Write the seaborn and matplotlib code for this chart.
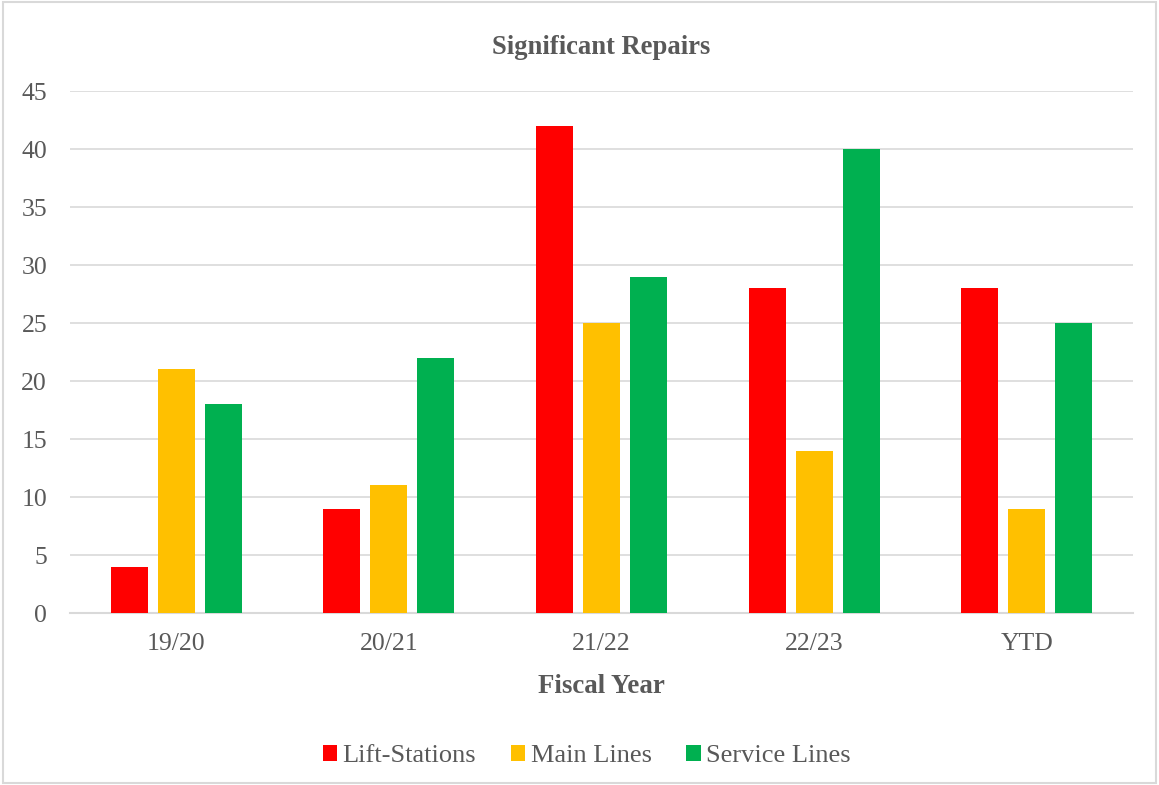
import matplotlib
matplotlib.use("Agg")
import matplotlib.pyplot as plt
import seaborn as sns
import pandas as pd
from matplotlib.patches import Rectangle

# Repair counts per fiscal year
years = ["19/20", "20/21", "21/22", "22/23", "YTD"]
lift_stations = [4, 9, 42, 28, 28]
main_lines = [21, 11, 25, 14, 9]
service_lines = [18, 22, 29, 40, 25]
series_names = ["Lift-Stations", "Main Lines", "Service Lines"]
colors = ["#FF0000", "#FFC000", "#00B050"]

df = pd.DataFrame({
    "Fiscal Year": years * 3,
    "Repairs": lift_stations + main_lines + service_lines,
    "Type": [n for n in series_names for _ in years],
})

sns.set_theme(style="white")
plt.rcParams["font.family"] = ["Liberation Serif", "DejaVu Serif"]
text_color = "#595959"

fig = plt.figure(figsize=(11.59, 7.85), dpi=100)
ax = fig.add_axes([0.0604, 0.219, 0.9172, 0.665])

sns.barplot(data=df, x="Fiscal Year", y="Repairs", hue="Type",
            hue_order=series_names, palette=colors, width=0.663, gap=0.21,
            saturation=1, ax=ax, legend=True, zorder=3, linewidth=0)

ax.set_ylim(0, 45)
ax.set_yticks(range(0, 46, 5))
ax.set_xlim(-0.5, 4.5)
ax.grid(axis="y", color="#D9D9D9", linewidth=1.2, zorder=0)
ax.set_axisbelow(True)
for side in ["top", "right", "left"]:
    ax.spines[side].set_visible(False)
ax.spines["bottom"].set_color("#D9D9D9")
ax.spines["bottom"].set_linewidth(1.5)
ax.tick_params(axis="both", length=0, labelsize=18.5, colors=text_color)
ax.tick_params(axis="y", pad=16.5)
ax.tick_params(axis="x", pad=14)
ax.set_ylabel("")
ax.set_xlabel("Fiscal Year", fontsize=19.4, fontweight="bold", color=text_color, labelpad=14)

ax.set_title("Significant Repairs", fontsize=19.2, fontweight="bold", color=text_color, pad=27)

leg = ax.legend(loc="upper center", bbox_to_anchor=(0.486, -0.207), ncol=3, frameon=False,
                fontsize=19, handlelength=0.56, handleheight=0.56, handletextpad=0.2,
                columnspacing=1.3)
for t in leg.get_texts():
    t.set_color(text_color)

# Light border around the whole figure
fig.patches.append(Rectangle((0.003, 0.003), 0.994, 0.994, transform=fig.transFigure,
                             fill=False, edgecolor="#D9D9D9", linewidth=1.5))

fig.savefig("out.png", dpi=100)
